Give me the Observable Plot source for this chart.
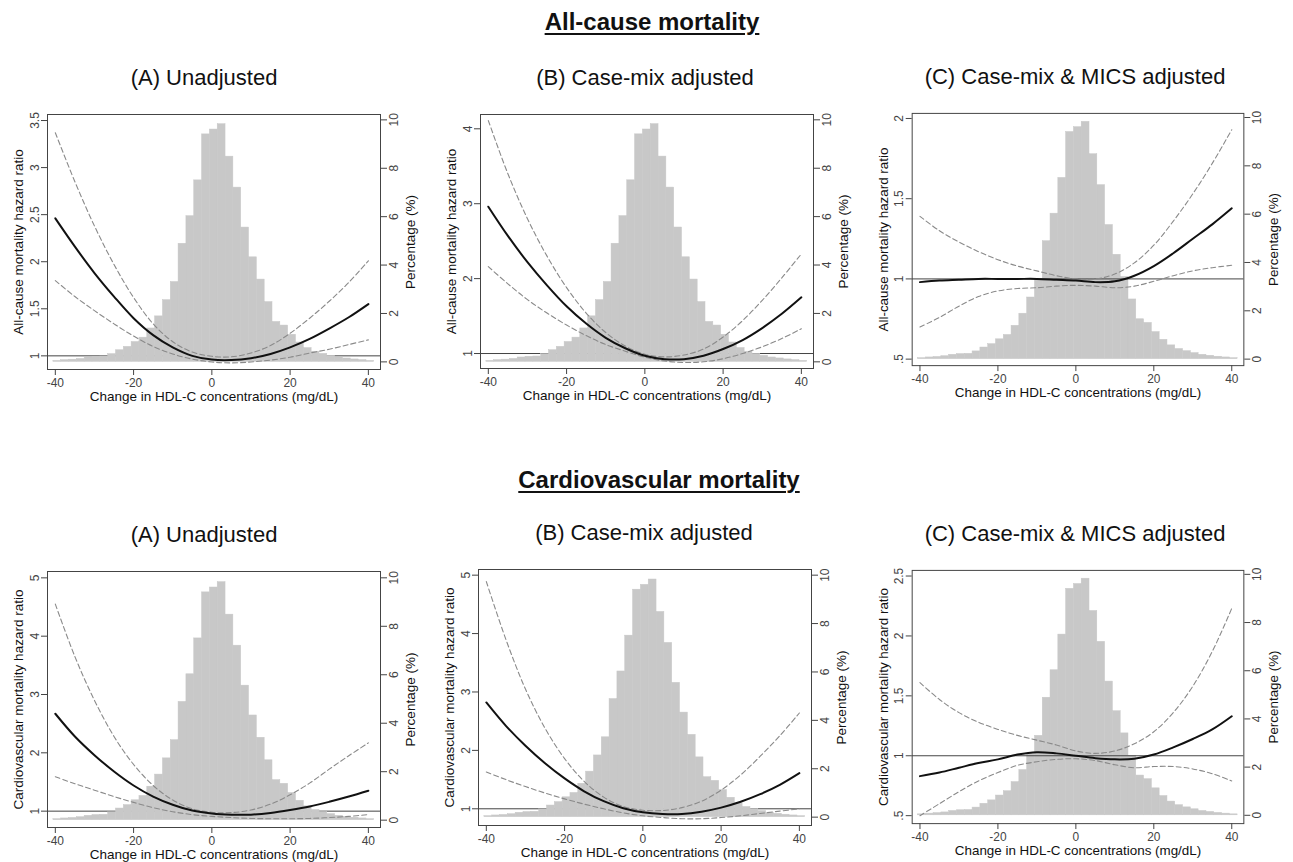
<!DOCTYPE html>
<html><head><meta charset="utf-8">
<script src="https://cdn.jsdelivr.net/npm/d3@7"></script>
<script src="https://cdn.jsdelivr.net/npm/@observablehq/plot@0.6"></script>
<style>
body{margin:0;background:#fff;font-family:"Liberation Sans",Arial,sans-serif;}
#page{position:relative;width:1293px;height:862px;overflow:hidden;background:#fff;}
.title{position:absolute;font-weight:bold;font-size:24px;line-height:1;text-decoration:underline;text-decoration-thickness:2px;text-underline-offset:3px;transform:translateX(-50%);white-space:nowrap;color:#111;}
.sub{position:absolute;font-size:22px;line-height:1;transform:translateX(-50%);white-space:nowrap;color:#111;}
.panel{position:absolute;}
</style></head><body><div id="page"></div>
<script>
// ---------------- data ----------------
const sectionTitles = ["All-cause mortality", "Cardiovascular mortality"];
const panelTitles = ["(A) Unadjusted", "(B) Case-mix adjusted", "(C) Case-mix & MICS adjusted"];
const xLabel = "Change in HDL-C concentrations (mg/dL)";
const yLabelAll = "All-cause mortality hazard ratio";
const yLabelCV = "Cardiovascular mortality hazard ratio";
const yLabelRight = "Percentage (%)";
const xTicks = [-40, -20, 0, 20, 40];
const xTickLabels = ["-40", "-20", "0", "20", "40"];
const pctTicks = [0, 2, 4, 6, 8, 10];

// histogram of HDL-C change (percent of patients), bins of width 2
const histEdges = [-40.5,-38.5,-36.5,-34.5,-32.5,-30.5,-28.5,-26.5,-24.5,-22.5,-20.5,-18.5,-16.5,-14.5,-12.5,-10.5,-8.5,-6.5,-4.5,-2.5,-0.5,1.5,3.5,5.5,7.5,9.5,11.5,13.5,15.5,17.5,19.5,21.5,23.5,25.5,27.5,29.5,31.5,33.5,35.5,37.5,39.5,41.5];
const histPct = [0.04,0.07,0.09,0.12,0.18,0.21,0.22,0.32,0.48,0.62,0.82,1.0,1.38,1.88,2.55,3.3,4.88,6.02,7.5,9.4,9.6,9.82,8.48,7.2,5.55,4.32,3.4,2.47,1.65,1.5,1.12,0.8,0.57,0.42,0.33,0.25,0.18,0.14,0.1,0.07,0.04];

// spline knots (HDL-C change) where curves were read
const xKnots = [-40,-35,-30,-25,-20,-15,-10,-5,0,5,10,15,20,25,30,35,40];

// All-cause (A) unadjusted
const allA_hr = [2.46,2.16,1.88,1.63,1.40,1.22,1.09,1.00,0.96,0.955,0.975,1.02,1.09,1.18,1.29,1.41,1.55];
const allA_hi = [3.37,2.85,2.38,1.97,1.62,1.34,1.15,1.04,0.995,0.99,1.03,1.11,1.24,1.40,1.58,1.78,2.01];
const allA_lo = [1.80,1.63,1.48,1.34,1.21,1.10,1.02,0.965,0.935,0.925,0.935,0.955,0.985,1.03,1.07,1.12,1.17];
// All-cause (B) case-mix
const allB_hr = [2.96,2.57,2.22,1.91,1.63,1.40,1.21,1.07,0.97,0.925,0.925,0.97,1.06,1.18,1.34,1.53,1.75];
const allB_hi = [4.11,3.40,2.80,2.30,1.88,1.54,1.28,1.10,0.99,0.955,0.98,1.06,1.22,1.44,1.71,2.01,2.33];
const allB_lo = [2.16,1.93,1.72,1.54,1.38,1.24,1.12,1.03,0.95,0.90,0.88,0.89,0.93,1.00,1.09,1.20,1.33];
// All-cause (C) case-mix & MICS
const allC_hr = [0.98,0.99,0.995,1.0,1.0,1.0,1.0,0.995,0.99,0.98,0.985,1.02,1.08,1.16,1.25,1.34,1.44];
const allC_hi = [1.39,1.30,1.23,1.17,1.12,1.08,1.05,1.02,1.0,1.0,1.03,1.10,1.21,1.36,1.53,1.72,1.93];
const allC_lo = [0.70,0.76,0.83,0.89,0.925,0.94,0.945,0.955,0.96,0.955,0.945,0.955,0.985,1.02,1.05,1.07,1.085];
// Cardiovascular (A)
const cvA_hr = [2.67,2.28,1.96,1.68,1.44,1.25,1.11,1.01,0.96,0.94,0.94,0.97,1.02,1.08,1.16,1.25,1.35];
const cvA_hi = [4.55,3.65,2.90,2.28,1.80,1.44,1.19,1.04,0.98,0.975,1.02,1.12,1.28,1.48,1.72,1.95,2.17];
const cvA_lo = [1.59,1.47,1.36,1.25,1.15,1.06,0.99,0.94,0.91,0.89,0.875,0.87,0.87,0.875,0.89,0.91,0.94];
// Cardiovascular (B)
const cvB_hr = [2.82,2.42,2.08,1.78,1.52,1.30,1.13,1.01,0.94,0.91,0.91,0.95,1.02,1.12,1.25,1.41,1.61];
const cvB_hi = [4.89,3.90,3.05,2.38,1.86,1.47,1.20,1.04,0.975,0.97,1.02,1.13,1.32,1.58,1.90,2.25,2.64];
const cvB_lo = [1.63,1.50,1.38,1.27,1.17,1.08,1.00,0.93,0.88,0.85,0.83,0.83,0.85,0.88,0.92,0.96,1.00];
// Cardiovascular (C)
const cvC_hr = [0.83,0.86,0.90,0.94,0.97,1.01,1.03,1.02,1.0,0.98,0.97,0.975,1.01,1.07,1.14,1.22,1.33];
const cvC_hi = [1.61,1.47,1.36,1.28,1.22,1.17,1.13,1.09,1.04,1.02,1.04,1.10,1.20,1.36,1.58,1.87,2.23];
const cvC_lo = [0.50,0.60,0.70,0.79,0.86,0.92,0.95,0.97,0.975,0.96,0.925,0.90,0.91,0.91,0.89,0.85,0.79];

// left-axis ticks
const yTicksAllA = [1,1.5,2,2.5,3,3.5], yTickLabelsAllA = ["1","1.5","2","2.5","3","3.5"];
const yTicksAllB = [1,2,3,4], yTickLabelsAllB = ["1","2","3","4"];
const yTicksAllC = [0.5,1,1.5,2], yTickLabelsAllC = [".5","1","1.5","2"];
const yTicksCvA = [1,2,3,4,5], yTickLabelsCvA = ["1","2","3","4","5"];
const yTicksCvB = [1,2,3,4,5], yTickLabelsCvB = ["1","2","3","4","5"];
const yTicksCvC = [0.5,1,1.5,2,2.5], yTickLabelsCvC = [".5","1","1.5","2","2.5"];

// ---------------- layout ----------------
const panels = [
  {L:47,R:380,T:114,B:369, sx:204, dom:[0.855,3.564], base:0.936, slope:0.2571, hr:allA_hr, hi:allA_hi, lo:allA_lo, ticks:yTicksAllA, labels:yTickLabelsAllA, yLabel:yLabelAll, title:panelTitles[0], ruleTop:false},
  {L:480,R:813,T:114,B:368, sx:645, dom:[0.80,4.191], base:0.889, slope:0.3231, hr:allB_hr, hi:allB_hi, lo:allB_lo, ticks:yTicksAllB, labels:yTickLabelsAllB, yLabel:yLabelAll, title:panelTitles[1], ruleTop:false},
  {L:912,R:1246,T:113,B:367, sx:1075, dom:[0.4595,2.0316], base:0.5, slope:0.1506, hr:allC_hr, hi:allC_hi, lo:allC_lo, ticks:yTicksAllC, labels:yTickLabelsAllC, yLabel:yLabelAll, title:panelTitles[2], ruleTop:true},
  {L:47,R:380,T:571,B:827, sx:204, dom:[0.7196,5.109], base:0.8455, slope:0.4155, hr:cvA_hr, hi:cvA_hi, lo:cvA_lo, ticks:yTicksCvA, labels:yTickLabelsCvA, yLabel:yLabelCV, title:panelTitles[0], ruleTop:false},
  {L:478,R:811,T:569,B:825, sx:644, dom:[0.714,5.097], base:0.857, slope:0.4143, hr:cvB_hr, hi:cvB_hi, lo:cvB_lo, ticks:yTicksCvB, labels:yTickLabelsCvB, yLabel:yLabelCV, title:panelTitles[1], ruleTop:false},
  {L:912,R:1246,T:570,B:825, sx:1075, dom:[0.4337,2.547], base:0.503, slope:0.2011, hr:cvC_hr, hi:cvC_hi, lo:cvC_lo, ticks:yTicksCvC, labels:yTickLabelsCvC, yLabel:yLabelCV, title:panelTitles[2], ruleTop:true}
];

const page = document.getElementById("page");
function addDiv(cls, text, left, top) {
  const d = document.createElement("div");
  d.className = cls; d.textContent = text;
  d.style.left = left + "px"; d.style.top = top + "px";
  page.appendChild(d);
}
addDiv("title", sectionTitles[0], 652, 10);
addDiv("title", sectionTitles[1], 659, 468);

const ML = 47, MR = 50, MT = 14, MB = 46;
const FONT = "'Liberation Sans', Arial, sans-serif";

panels.forEach(p => {
  addDiv("sub", p.title, p.sx, p.T - 46.6);
  const toY = v => p.base + p.slope * v;
  const bars = histPct.map((v, i) => ({x1: histEdges[i], x2: histEdges[i + 1], y1: p.base, y2: toY(v)}));
  const rows = xKnots.map((x, i) => ({x, hr: p.hr[i], hi: p.hi[i], lo: p.lo[i]}));
  const rule = Plot.ruleY([1], {stroke: "#444", strokeWidth: 1});
  const marks = [];
  if (!p.ruleTop) marks.push(rule);
  marks.push(Plot.rect(bars, {x1: "x1", x2: "x2", y1: "y1", y2: "y2", fill: "#c8c8c8", stroke: "#c8c8c8", strokeWidth: 0.5}));
  if (p.ruleTop) marks.push(rule);
  marks.push(Plot.line(rows, {x: "x", y: "hi", stroke: "#8a8a8a", strokeWidth: 1.1, strokeDasharray: "5,3", curve: "catmull-rom"}));
  marks.push(Plot.line(rows, {x: "x", y: "lo", stroke: "#8a8a8a", strokeWidth: 1.1, strokeDasharray: "5,3", curve: "catmull-rom"}));
  marks.push(Plot.line(rows, {x: "x", y: "hr", stroke: "#111", strokeWidth: 2, curve: "catmull-rom"}));
  marks.push(Plot.frame({stroke: "#444"}));
  marks.push(Plot.axisX({ticks: xTicks, tickSize: 6, tickPadding: 3, tickFormat: (d, i) => xTickLabels[i], label: null, color: "#444", fontSize: 12}));
  marks.push(Plot.axisY({anchor: "left", ticks: p.ticks, tickSize: 6, tickFormat: () => "", label: null, color: "#444"}));
  marks.push(Plot.text(p.ticks, {y: d => d, text: (d, i) => p.labels[i], frameAnchor: "left", dx: -9, rotate: -90, lineAnchor: "bottom", textAnchor: "middle", fill: "#444", fontSize: 12}));
  marks.push(Plot.axisY({anchor: "right", ticks: pctTicks.map(toY), tickSize: 6, tickFormat: () => "", label: null, color: "#444"}));
  marks.push(Plot.text(pctTicks, {y: d => toY(d), text: d => String(d), frameAnchor: "right", dx: 9, rotate: -90, lineAnchor: "top", textAnchor: "middle", fill: "#444", fontSize: 12}));
  marks.push(Plot.text([xLabel], {frameAnchor: "bottom", dy: 22, lineAnchor: "top", textAnchor: "middle", fill: "#111", fontSize: 13.5}));
  marks.push(Plot.text([p.yLabel], {frameAnchor: "left", dx: -29, rotate: -90, lineAnchor: "middle", textAnchor: "middle", fill: "#111", fontSize: 13.5}));
  marks.push(Plot.text([yLabelRight], {frameAnchor: "right", dx: 30, rotate: -90, lineAnchor: "middle", textAnchor: "middle", fill: "#111", fontSize: 13.5}));

  const chart = Plot.plot({
    width: p.R - p.L + ML + MR,
    height: p.B - p.T + MT + MB,
    marginLeft: ML, marginRight: MR, marginTop: MT, marginBottom: MB,
    x: {domain: [-42, 43.1]},
    y: {domain: p.dom},
    style: {fontFamily: FONT, fontSize: "12px", background: "transparent", overflow: "visible"},
    marks
  });
  const wrap = document.createElement("div");
  wrap.className = "panel";
  wrap.style.left = (p.L - ML) + "px";
  wrap.style.top = (p.T - MT) + "px";
  wrap.appendChild(chart);
  page.appendChild(wrap);
});
</script>
</body></html>
